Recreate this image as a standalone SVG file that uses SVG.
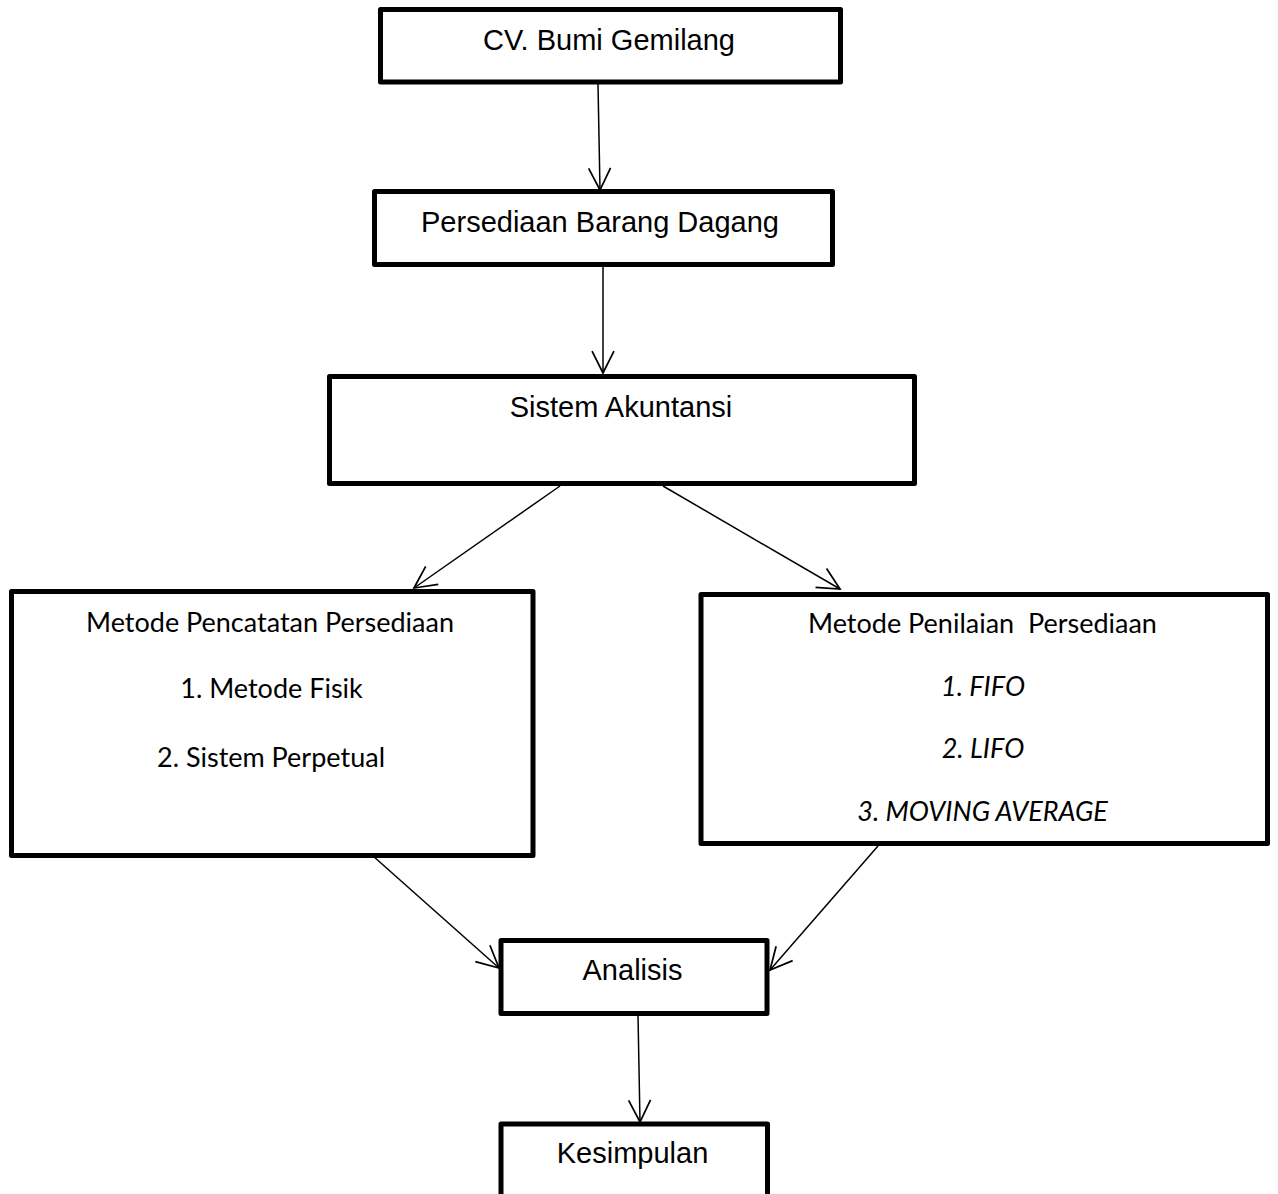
<svg xmlns="http://www.w3.org/2000/svg" width="1278" height="1194" viewBox="0 0 1278 1194">
<defs>
<marker id="arr" markerUnits="userSpaceOnUse" markerWidth="30" markerHeight="30" viewBox="-22 -12 26 24" refX="0" refY="0" orient="auto">
<path d="M-19,-9.5 L0,0 L-19,9.5" fill="none" stroke="#000" stroke-width="1.5"/>
</marker>
</defs>
<style>
.box{fill:#fff;stroke:#000;stroke-width:5;stroke-linejoin:round}
.a{font-family:"Liberation Sans",Arial,sans-serif;font-size:29px;fill:#000;text-anchor:middle}
.c{font-family:Lato,"Open Sans",sans-serif;font-size:27px;fill:#000;text-anchor:middle}
.i{font-style:italic}
.con line{stroke:#000;stroke-width:1.5;fill:none;marker-end:url(#arr)}
</style>
<rect width="1278" height="1194" fill="#fff"/>
<g class="con">
<line x1="598" y1="84" x2="600" y2="190"/>
<line x1="603" y1="267" x2="603" y2="373"/>
<line x1="560" y1="486" x2="414" y2="588"/>
<line x1="663" y1="486" x2="840" y2="589"/>
<line x1="373" y1="856" x2="499" y2="968"/>
<line x1="878" y1="846" x2="770" y2="970"/>
<line x1="638" y1="1015" x2="640" y2="1122"/>
</g>
<g id="n1"><rect class="box" x="380.5" y="9.5" width="460" height="72.5"/><text class="a" x="609" y="50">CV. Bumi Gemilang</text></g>
<g id="n2"><rect class="box" x="374.5" y="191.5" width="458" height="73"/><text class="a" x="600" y="232">Persediaan Barang Dagang</text></g>
<g id="n3"><rect class="box" x="329.5" y="376.5" width="585" height="107"/><text class="a" x="621" y="417">Sistem Akuntansi</text></g>
<g id="n4"><rect class="box" x="11.5" y="591.5" width="521.5" height="264"/>
<text class="c" x="270" y="632">Metode Pencatatan Persediaan</text>
<text class="c" x="271.5" y="698">1. Metode Fisik</text>
<text class="c" x="271" y="767">2. Sistem Perpetual</text></g>
<g id="n5"><rect class="box" x="701" y="594.5" width="566.5" height="249"/>
<text class="c" x="982.5" y="633" xml:space="preserve">Metode Penilaian  Persediaan</text>
<text class="c i" x="983" y="696">1. FIFO</text>
<text class="c i" x="983" y="758">2. LIFO</text>
<text class="c i" x="982.5" y="821">3. MOVING AVERAGE</text></g>
<g id="n6"><rect class="box" x="501" y="940.5" width="266" height="73"/><text class="a" x="632.5" y="980">Analisis</text></g>
<g id="n7"><rect class="box" x="501" y="1124" width="266.5" height="100"/><text class="a" x="632.5" y="1163">Kesimpulan</text></g>
</svg>
